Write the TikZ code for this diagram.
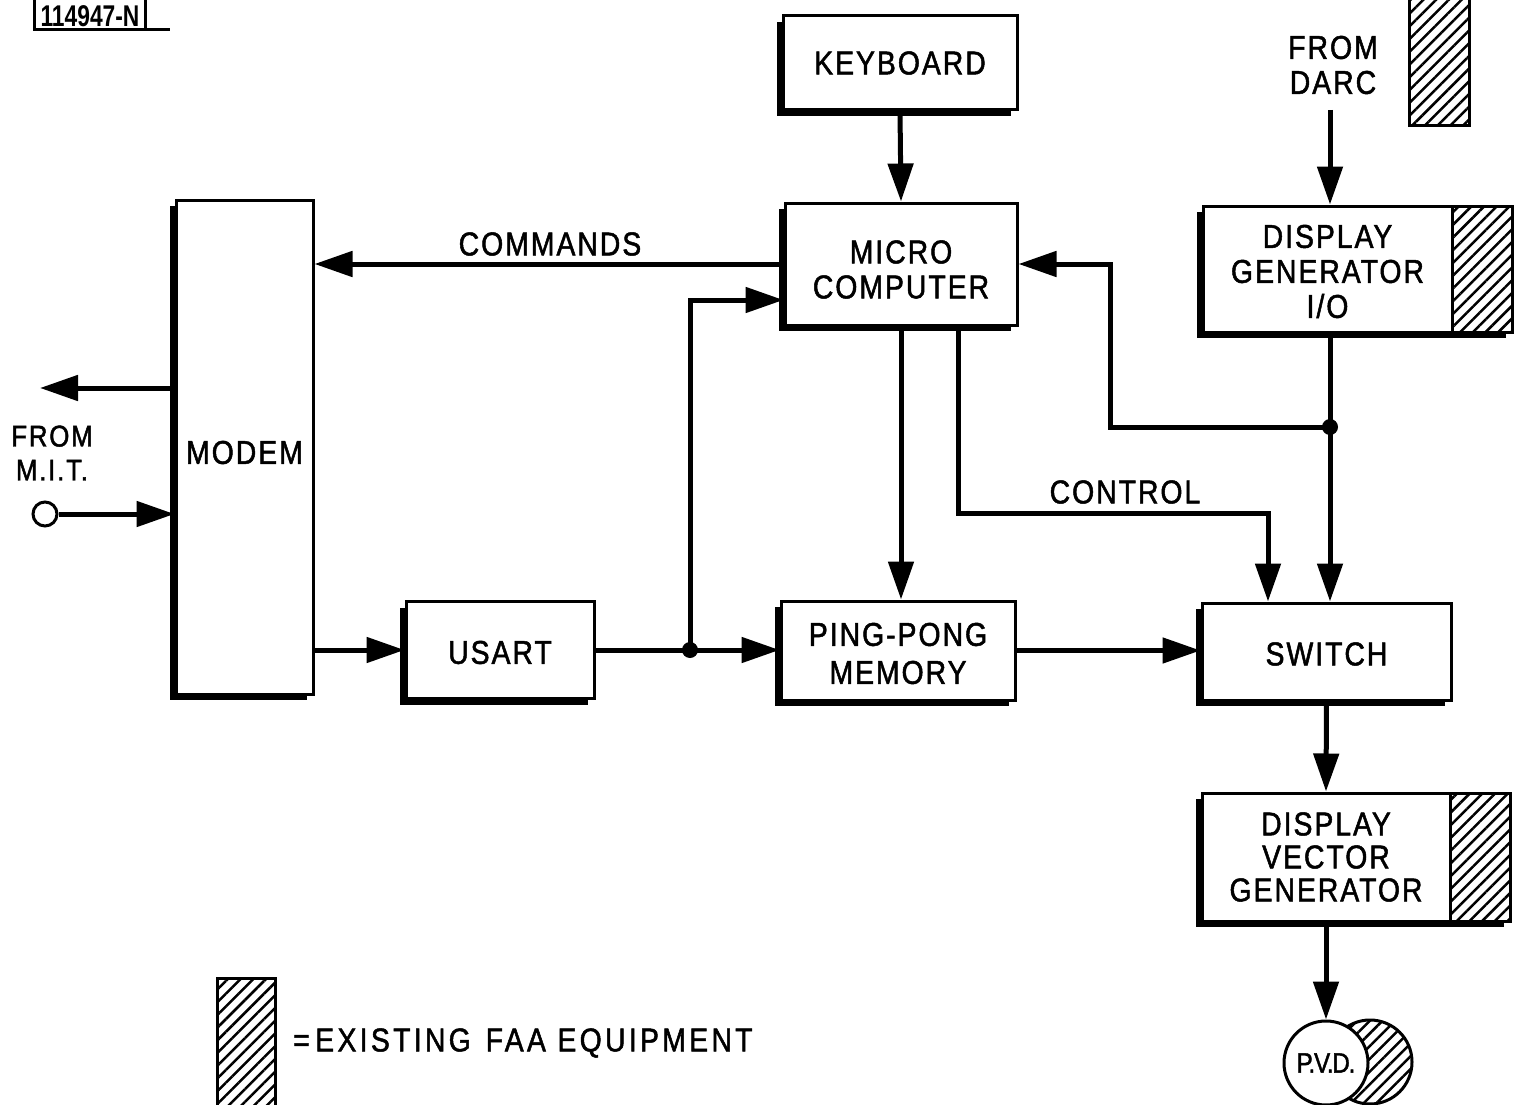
\documentclass[tikz,border=0pt]{standalone}
\usepackage{fontspec}
\setmainfont{Liberation Sans}[FakeStretch=0.86,LetterSpace=6,FakeBold=1.5]
\newfontfamily\idfont{Liberation Sans}[FakeStretch=0.76]
\usetikzlibrary{arrows.meta,shadows,patterns.meta}
\newcommand\dlbl{\fontsize{33}{35}\selectfont}
\newcommand\dstrut{\rule{0pt}{34pt}}
\begin{document}
\begin{tikzpicture}[x=1pt,y=-1pt,
  box/.style={draw, line width=3pt, fill=white, align=center, inner sep=0pt,
    font=\dlbl, general shadow={fill=black, shadow xshift=-6pt, shadow yshift=-6pt}},
  hpat/.style={pattern={Lines[angle=45,distance=9pt,line width=2.5pt]}},
  hbox/.style={box, preaction={fill=white}, hpat},
  hplain/.style={draw, line width=3pt, preaction={fill=white}, hpat},
  wire/.style={line width=5pt},
  arr/.style={wire, -{Triangle[length=38pt,width=25pt]}},
  txt/.style={font=\dlbl, align=center, inner sep=0pt},
  dot/.style={circle, fill=black, minimum size=16pt, inner sep=0pt}]
\useasboundingbox (0,0) rectangle (1515,1105);
% id label
\node[font=\idfont\bfseries\fontsize{30}{31}\selectfont, inner sep=0pt] (id) at (90,16) {114947-N};
\draw[line width=3pt] (34,-3) -- (34,30) -- (170,30) (145,-3) -- (145,30);
% boxes
\node[box, minimum width=234pt, minimum height=94pt] (kb) at (900,63) {KEYBOARD};
\node[box, minimum width=232pt, minimum height=122pt] (mc) at (901,264) {\dstrut MICRO\\COMPUTER};
\node[box, minimum width=137pt, minimum height=494pt] (modem) at (244.5,447) {\dstrut MODEM};
\node[box, minimum width=188pt, minimum height=97pt] (usart) at (500,650) {\rule{0pt}{28pt}USART};
\node[box, minimum width=234pt, minimum height=99pt, font=\fontsize{33}{38}\selectfont] (pp) at (898,650.5) {\rule{0pt}{29pt}PING-PONG\\MEMORY};
\node[box, minimum width=249pt, minimum height=97pt] (sw) at (1326.5,651.5) {\rule{0pt}{28pt}SWITCH};
\node[hbox, minimum width=60pt, minimum height=126pt] (dgioh) at (1482,269) {};
\node[box, minimum width=249pt, minimum height=126pt] (dgio) at (1327.5,269) {\rule{0pt}{28pt}DISPLAY\\GENERATOR\\I/O};
\node[hbox, minimum width=60pt, minimum height=128pt] (dvgh) at (1480,857) {};
\node[box, minimum width=248pt, minimum height=128pt, font=\fontsize{33}{33}\selectfont] (dvg) at (1326,857) {DISPLAY\\VECTOR\\GENERATOR};
\node[hplain, circle, minimum size=84pt] (pvdh) at (1370,1062) {};
\node[draw, line width=3pt, fill=white, circle, minimum size=84pt, inner sep=0pt,
  font=\fontsize{28}{29}\selectfont\addfontfeatures{LetterSpace=-4}] (pvd) at (1326,1063) {P.V.D.};
\node[hplain, minimum width=60pt, minimum height=134pt, anchor=south west] (darch) at (1408,127) {};
\node[hplain, minimum width=58pt, minimum height=134pt, anchor=north west] (legh) at (216,977) {};
% texts
\node[txt] (darc) at (1333,65) {FROM\\DARC};
\node[txt, font=\fontsize{30}{34}\selectfont] (mit) at (52,453) {FROM\\M.I.T.};
\node[txt] (cmd) at (550,244) {COMMANDS};
\node[txt] (ctl) at (1125,492) {CONTROL};
\node[txt, anchor=west, font=\dlbl\addfontfeatures{LetterSpace=10}] (leg) at (293,1043) {=\,EXISTING\hspace{0.45em}FAA\hspace{0.35em}EQUIPMENT};
% terminals and junctions
\node[circle, draw, line width=3pt, fill=white, minimum size=24pt, inner sep=0pt] (mitin) at (45,514) {};
\coordinate (mitout) at (40,388);
\coordinate (darcout) at (1330,110);
\node[dot] (j1) at (690,650) {};
\node[dot] (j2) at (1330,427) {};
\coordinate (cx) at (958,0);
\coordinate (cy) at (1268,513);
\coordinate (fx) at (1110,0);
% connectors
\draw[arr] (kb.south) -- (mc.north);
\draw[arr] (mc.west) -- (modem.east |- mc.west);
\draw[arr] (modem.west |- mitout) -- (mitout);
\draw[arr] (mitin.east) -- (modem.west |- mitin.east);
\draw[arr] (modem.east |- usart.west) -- (usart.west);
\draw[wire] (usart.east) -- (j1.center);
\draw[arr] (j1.center) -- (pp.west |- j1.center);
\draw[arr] (j1.center) |- ([yshift=-36pt]mc.west);
\draw[arr] (mc.south) -- (pp.north -| mc.south);
\draw[arr] (mc.south -| cx) |- (cy) -- (sw.north -| cy);
\draw[arr] (darcout) -- (dgio.north -| darcout);
\draw[arr] (dgio.south -| j2) -- (sw.north -| j2);
\draw[arr] (j2.center) -| (fx |- mc.east) -- (mc.east);
\draw[arr] (pp.east) -- (sw.west |- pp.east);
\draw[arr] (sw.south) -- (dvg.north);
\draw[arr] (dvg.south) -- (pvd.north);
\end{tikzpicture}
\end{document}
